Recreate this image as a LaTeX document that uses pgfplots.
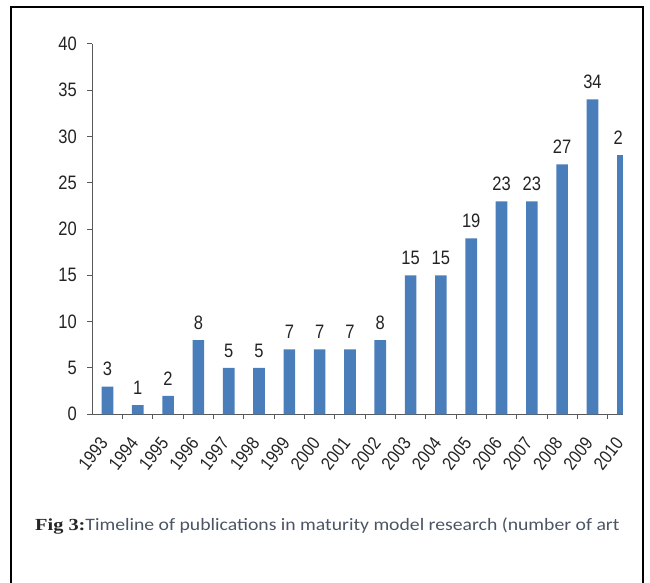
\documentclass[border=0pt]{standalone}
\usepackage{fontspec}
\usepackage{pgfplots}
\usepackage{pgfplotstable}
\pgfplotsset{compat=1.18}
\newfontfamily\chartfont[FakeStretch=0.85]{Liberation Sans}
\newfontfamily\capfont[FakeStretch=1.13]{Carlito}
\newfontfamily\figfont[FakeStretch=1.2]{Liberation Serif}
\definecolor{barblue}{RGB}{74,126,187}
\definecolor{txt}{RGB}{35,35,35}
\definecolor{capcol}{RGB}{75,85,100}
\pgfplotstableread{
x y lab
0 3 3
1 1 1
2 2 2
3 8 8
4 5 5
5 5 5
6 7 7
7 7 7
8 7 7
9 8 8
10 15 15
11 15 15
12 19 19
13 23 23
14 23 23
15 27 27
16 34 34
17 28 2\phantom{8}
}\pubs
\begin{document}
\begin{tikzpicture}
\path[use as bounding box] (0,0) rectangle (650bp,583bp);
\begin{axis}[
  scale only axis,
  width=530.5bp, height=370.4bp,
  at={(92.3bp,168.7bp)}, anchor=south west,
  xmin=-0.5, xmax=17, ymin=0, ymax=40,
  enlargelimits=false,
  axis x line*=bottom, axis y line*=left,
  axis line style={-, black!65, line width=1.2bp},
  tick align=outside,
  major tick length=5bp,
  minor tick length=5bp,
  tick style={black!65, line width=1bp},
  xtick={0,...,17},
  xticklabels={1993,1994,1995,1996,1997,1998,1999,2000,2001,2002,2003,2004,2005,2006,2007,2008,2009,2010},
  x tick style={draw=none},
  minor xtick={0.5,1.5,...,16.5},
  minor x tick style={draw=black!65, line width=1bp},
  ytick={0,5,...,40},
  /pgf/number format/assume math mode=true,
  ticklabel style={font=\chartfont\fontsize{19.5}{21}\selectfont, text=txt},
  yticklabel style={xshift=-7bp},
  xticklabel style={font=\chartfont\fontsize{18.5}{20}\selectfont, xshift=-9bp, yshift=-15bp, rotate=52, anchor=north east, inner sep=1bp},
  ybar, bar width=11.6bp,
  point meta=explicit symbolic,
  nodes near coords,
  nodes near coords style={font=\chartfont\fontsize{19.5}{21}\selectfont, text=txt, yshift=7bp},
]
\addplot[fill=barblue, draw=none] table[x=x, y=y, meta=lab] {\pubs};
\end{axis}
\draw[line width=2bp, black] (11bp,-3bp) -- (11bp,575.5bp) -- (642.5bp,575.5bp) -- (642.5bp,-3bp);
\node[anchor=base west, inner sep=0] at (35bp,52bp) {{\figfont\bfseries\fontsize{17}{19}\selectfont\color{black!85}Fig 3:}{\capfont\fontsize{17.5}{19}\selectfont\color{capcol}Timeline of publications in maturity model research (number of art}};
\end{tikzpicture}
\end{document}
